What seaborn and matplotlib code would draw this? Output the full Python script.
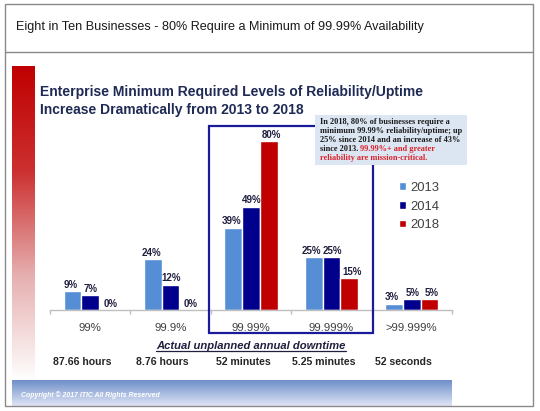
import numpy as np
import pandas as pd
import matplotlib
matplotlib.use("Agg")
import matplotlib.pyplot as plt
import seaborn as sns
from matplotlib.colors import LinearSegmentedColormap
from matplotlib.patches import Rectangle
from matplotlib.lines import Line2D
import matplotlib.transforms as mtransforms

# ---------------- data ----------------
categories = ['99%', '99.9%', '99.99%', '99.999%', '>99.999%']
downtime = ['87.66 hours', '8.76 hours', '52 minutes', '5.25 minutes', '52 seconds']
years = ['2013', '2014', '2018']
v2013 = [9, 24, 39, 25, 3]
v2014 = [7, 12, 49, 25, 5]
v2018 = [0, 0, 80, 15, 5]
colors = ['#558ED5', '#00008C', '#C00000']

header = 'Eight in Ten Businesses - 80% Require a Minimum of 99.99% Availability'
subtitle = ['Enterprise Minimum Required Levels of Reliability/Uptime',
            'Increase Dramatically from 2013 to 2018']
note_lines = ['In 2018, 80% of businesses require a',
              'minimum 99.99% reliability/uptime; up',
              '25% since 2014 and an increase of 43%']
note_mixed = ('since 2013. ', '99.99%+ and greater')
note_red = 'reliability are mission-critical.'
axis_note = 'Actual unplanned annual downtime'
copyright_text = 'Copyright \u00a9 2017 ITIC All Rights Reserved'

df = pd.DataFrame({
    'category': categories * 3,
    'year': [y for y in years for _ in categories],
    'value': v2013 + v2014 + v2018,
})

# ---------------- figure ----------------
sns.set_theme(style='white')
plt.rcParams['font.family'] = ['Liberation Sans', 'DejaVu Sans']

W, H = 540, 411
fig = plt.figure(figsize=(W / 100, H / 100), dpi=100)
fig.patch.set_facecolor('white')


def fx(px):
    return px / W


def fy(py):
    return 1 - py / H


renderer = fig.canvas.get_renderer()


def fit(t, width_px):
    w = t.get_window_extent(renderer).width
    t.set_fontsize(t.get_fontsize() * width_px / w)
    return t


# outer border and header separator
fig.patches.append(Rectangle((fx(5), fy(406)), (533 - 5) / W, (406 - 4) / H,
                             transform=fig.transFigure, fill=False,
                             ec='#8a8a8a', lw=1.0, zorder=10))
fig.lines.append(Line2D([fx(5), fx(533)], [fy(52), fy(52)],
                        transform=fig.transFigure, color='#8a8a8a', lw=1.0))

# header text
t = fig.text(fx(16), fy(27), header, fontsize=10.5, color='#1a1a1a',
             va='center', ha='left')
fit(t, 409)

# red gradient bar at left
axr = fig.add_axes([fx(12), fy(382), (34 - 12) / W, (382 - 66) / H])
red_cmap = LinearSegmentedColormap.from_list('redfade', ['#FFFFFF', '#E6B0B0', '#CC3030', '#C00000'])
axr.imshow(np.linspace(1, 0, 256).reshape(-1, 1), cmap=red_cmap, aspect='auto',
           extent=(0, 1, 0, 1))
axr.set_axis_off()

# footer gradient band
axf = fig.add_axes([fx(12), fy(407), (452 - 12) / W, (407 - 380) / H])
blue_cmap = LinearSegmentedColormap.from_list('bluefade', ['#6A8CC6', '#E4E8F8'])
axf.imshow(np.linspace(1, 0, 64).reshape(-1, 1)[::-1], cmap=blue_cmap, aspect='auto',
           extent=(0, 1, 0, 1))
axf.set_axis_off()
tc = fig.text(fx(21), fy(395), copyright_text, fontsize=5.5, color='white',
              fontweight='bold', fontstyle='italic', va='center', ha='left', zorder=12)
fit(tc, 139)

# subtitle
s1 = fig.text(fx(40), fy(92), subtitle[0], fontsize=11, fontweight='bold',
              color='#1F2A55', va='center', ha='left')
fit(s1, 382)
s2 = fig.text(fx(40), fy(110), subtitle[1], fontsize=s1.get_fontsize(),
              fontweight='bold', color='#1F2A55', va='center', ha='left')

# ---------------- chart ----------------
ax = fig.add_axes([fx(50), fy(310), (452 - 50) / W, (310 - 120) / H])
sns.barplot(data=df, x='category', y='value', hue='year', order=categories,
            hue_order=years, palette=colors, width=0.66, saturation=1,
            ax=ax, errorbar=None)
ax.set_xlim(-0.5, 4.5)
ax.set_ylim(0, 90)
ax.set_yticks([])
ax.set_xlabel('')
ax.set_ylabel('')
for side in ['left', 'top', 'right']:
    ax.spines[side].set_visible(False)
ax.spines['bottom'].set_color('#BFBFBF')
ax.spines['bottom'].set_linewidth(1.0)
ax.set_xticks(np.arange(-0.5, 5, 1), minor=True)
ax.tick_params(axis='x', which='minor', length=3, color='#BFBFBF', width=1, bottom=True)
ax.tick_params(axis='x', which='major', length=0, pad=9.5, labelsize=8.2,
               labelcolor='#404040')
ax.patch.set_alpha(0)

label_dx = [-1.4, 0.6, 1.8]
for k, cont in enumerate(ax.containers):
    anns = ax.bar_label(cont, fmt='%d%%', padding=1, fontsize=7.0, fontweight='bold',
                        color='#1F1F3F')
    for a in anns:
        a.xyann = (label_dx[k], 1)

# legend
handles, labels = ax.get_legend_handles_labels()
if ax.get_legend() is not None:
    ax.get_legend().remove()
ax.legend(handles, labels, loc='upper left', bbox_to_anchor=(fx(399), fy(182)),
          bbox_transform=fig.transFigure, frameon=False, fontsize=9.4,
          handlelength=0.55, handleheight=0.55, handletextpad=0.3,
          labelspacing=0.5, labelcolor='#404040', borderaxespad=0, borderpad=0)

# highlight box around 99.99% and 99.999%
ax.add_patch(Rectangle((1.478, -10.9), 3.517 - 1.478, 87.2 + 10.9, fill=False,
                       ec='#1A1A9A', lw=1.6, clip_on=False, zorder=6))

# downtime labels
blend = mtransforms.blended_transform_factory(ax.transData, fig.transFigure)
for i, d in enumerate(downtime):
    ax.text(i - 0.1, fy(362), d, transform=blend, ha='center', va='center',
            fontsize=7.6, fontweight='bold', color='#262626')

an = ax.text(2, fy(346), axis_note, transform=blend, ha='center', va='center',
             fontsize=8.2, fontweight='bold', fontstyle='italic', color='#1F1F3F')
fit(an, 191)
bb = an.get_window_extent(renderer)
fig.lines.append(Line2D([bb.x0 / W, bb.x1 / W], [(bb.y0 + 0.5) / H, (bb.y0 + 0.5) / H],
                        transform=fig.transFigure, color='#1F1F3F', lw=0.9))

# annotation box
fig.patches.append(Rectangle((fx(315), fy(165)), (467 - 315) / W, (165 - 115) / H,
                             transform=fig.transFigure, fc='#DCE6F2', ec='none',
                             zorder=8))
serif = ['Liberation Serif', 'DejaVu Serif']
ys = [122.3, 131.3, 140.3, 149.3, 158.3]
t0 = fig.text(fx(320), fy(ys[0]), note_lines[0], family=serif, fontweight='bold',
              fontsize=6.5, color='#1a1a1a', va='center', ha='left', zorder=9)
fit(t0, 127)
fs = t0.get_fontsize()
for yy, line in zip(ys[1:3], note_lines[1:]):
    fig.text(fx(320), fy(yy), line, family=serif, fontweight='bold', fontsize=fs,
             color='#1a1a1a', va='center', ha='left', zorder=9)
tb = fig.text(fx(320), fy(ys[3]), note_mixed[0], family=serif, fontweight='bold',
              fontsize=fs, color='#1a1a1a', va='center', ha='left', zorder=9)
bbx = tb.get_window_extent(renderer)
fig.text(bbx.x1 / W, fy(ys[3]), note_mixed[1], family=serif, fontweight='bold',
         fontsize=fs, color='#D9222A', va='center', ha='left', zorder=9)
fig.text(fx(320), fy(ys[4]), note_red, family=serif, fontweight='bold', fontsize=fs,
         color='#D9222A', va='center', ha='left', zorder=9)

fig.savefig('out.png', dpi=100)
